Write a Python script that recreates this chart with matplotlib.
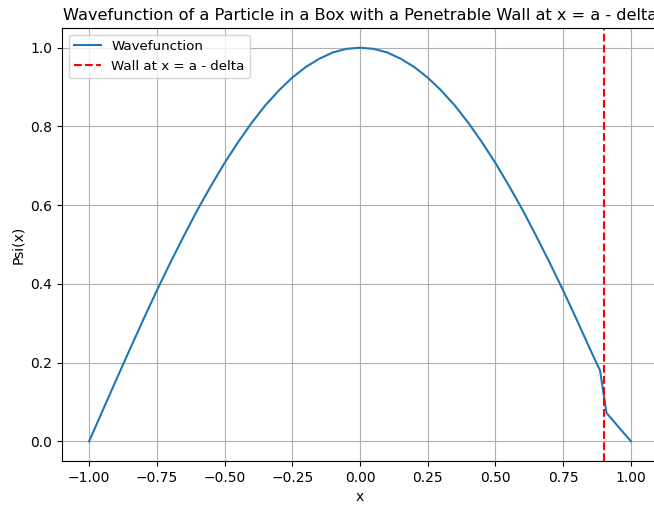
import matplotlib.pyplot as plt

# values
x_vals = [-1.00, -0.95, -0.90, -0.85, -0.80, -0.75, -0.70, -0.65, -0.60, -0.55,
          -0.50, -0.45, -0.40, -0.35, -0.30, -0.25, -0.20, -0.15, -0.10, -0.05,
          0.00, 0.05, 0.10, 0.15, 0.20, 0.25, 0.30, 0.35, 0.40, 0.45,
          0.50, 0.55, 0.60, 0.65, 0.70, 0.75, 0.80, 0.85, 0.886, 0.91, 1.00]
psi_vals = [0.000, 0.078, 0.156, 0.233, 0.309, 0.383, 0.454, 0.522, 0.588, 0.649,
            0.707, 0.760, 0.809, 0.853, 0.891, 0.924, 0.951, 0.972, 0.988, 0.997,
            1.000, 0.997, 0.988, 0.972, 0.951, 0.924, 0.891, 0.853, 0.809, 0.760,
            0.707, 0.649, 0.588, 0.522, 0.454, 0.383, 0.309, 0.233, 0.180, 0.072, 0.000]
wall_x = 0.9

fig = plt.figure(figsize=(6.54, 5.05), dpi=100)
ax = fig.add_axes([62 / 654, 44 / 505, 596 / 654, 433 / 505])

ax.plot(x_vals, psi_vals, label='Wavefunction')
ax.axvline(wall_x, color='r', linestyle='--', label='Wall at x = a - delta')

ax.set_xlim(-1.1, 1.1)
ax.set_ylim(-0.05, 1.05)
ax.set_xticks([-1.0, -0.75, -0.5, -0.25, 0.0, 0.25, 0.5, 0.75, 1.0])
ax.set_xlabel('x')
ax.set_ylabel('Psi(x)')
ax.set_title('Wavefunction of a Particle in a Box with a Penetrable Wall at x = a - delta',
             fontsize=11.6)
ax.legend(loc='upper left', fontsize=9.6)
ax.grid(True)

fig.savefig('out.png', dpi=100)
